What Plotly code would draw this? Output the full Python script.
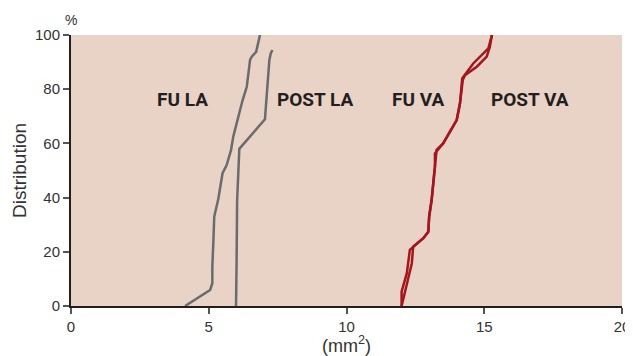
import plotly.graph_objects as go

# FU LA (gray, left)
fu_la_x = [4.14, 5.05, 5.13, 5.13, 5.17, 5.20, 5.35, 5.44, 5.50, 5.65, 5.75, 5.81, 5.89, 6.07, 6.23, 6.38, 6.44, 6.50, 6.56, 6.72, 6.86]
fu_la_y = [0, 5.9, 8.4, 14.5, 24.4, 33.0, 39.7, 45.3, 49.0, 52.0, 55.0, 57.6, 62.5, 69.9, 76.0, 80.9, 85.9, 90.8, 92.0, 93.8, 100]

# POST LA (gray, right)
post_la_x = [5.99, 5.99, 6.01, 6.03, 6.05, 6.07, 6.11, 7.04, 7.10, 7.16, 7.20, 7.25, 7.31]
post_la_y = [0, 14.5, 15.9, 39.0, 45.4, 50.0, 58.0, 68.9, 78.5, 85.2, 90.8, 93.2, 94.5]

# FU VA (red)
fu_va_x = [12.0, 12.0, 12.19, 12.30, 12.79, 12.97, 13.00, 13.09, 13.15, 13.21, 13.21, 13.51, 14.00, 14.12, 14.22, 14.30, 14.73, 15.09, 15.20, 15.28]
fu_va_y = [0, 5.3, 12.1, 20.7, 25.0, 27.4, 33.0, 39.1, 45.3, 51.4, 56.3, 60.0, 68.6, 74.8, 83.4, 85.2, 88.3, 92.0, 95.5, 100]

# POST VA (red)
post_va_x = [12.0, 12.19, 12.37, 12.42, 12.79, 12.97, 13.00, 13.09, 13.15, 13.21, 13.27, 13.51, 14.00, 14.12, 14.20, 14.60, 15.00, 15.15, 15.28]
post_va_y = [0, 8.4, 15.7, 21.9, 25.0, 27.4, 33.0, 39.1, 45.3, 51.4, 57.6, 60.0, 68.6, 74.8, 84.0, 89.5, 93.5, 95.1, 100]

labels = ["FU LA", "POST LA", "FU VA", "POST VA"]
label_x = [4.05, 8.87, 12.6, 16.66]
label_y = [76.1, 76.1, 76.1, 76.1]

x_ticks = [0, 5, 10, 15, 20]
y_ticks = [0, 20, 40, 60, 80, 100]

GRAY = "#6a6b6d"
RED = "#a3161d"

fig = go.Figure()
for xs, ys, c in [(fu_la_x, fu_la_y, GRAY), (post_la_x, post_la_y, GRAY),
                  (fu_va_x, fu_va_y, RED), (post_va_x, post_va_y, RED)]:
    fig.add_trace(go.Scatter(x=xs, y=ys, mode="lines",
                             line=dict(color=c, width=2.5), showlegend=False,
                             hoverinfo="skip"))

for t, lx, ly in zip(labels, label_x, label_y):
    fig.add_annotation(x=lx, y=ly, text="<b>" + t + "</b>", showarrow=False,
                       font=dict(family="Roboto, sans-serif",
                                 size=19, color="#231f20"))

fig.add_annotation(xref="paper", yref="paper", x=0, y=1, xanchor="center", yanchor="bottom",
                   yshift=5, text="%", showarrow=False,
                   font=dict(family="Liberation Sans, sans-serif", size=14, color="#333333"))

axis_font = dict(family="Liberation Sans, sans-serif", size=15, color="#333333")
fig.update_layout(
    width=625, height=348,
    margin=dict(l=63, r=11, t=27, b=50),
    paper_bgcolor="white",
    plot_bgcolor="#e9d2c6",
    xaxis=dict(range=[0, 20], tickvals=x_ticks, showgrid=False, zeroline=False,
               automargin=False,
               showline=True, linecolor="#231f20", linewidth=2,
               ticks="outside", ticklen=6, tickcolor="#555555", tickwidth=1.5,
               tickfont=axis_font,
               title=dict(text="(mm<sup>2</sup>)", font=dict(family="Liberation Sans, sans-serif", size=18, color="#333333"), standoff=4)),
    yaxis=dict(range=[0, 100], tickvals=y_ticks, showgrid=False, zeroline=False,
               automargin=False,
               showline=True, linecolor="#231f20", linewidth=2,
               ticks="outside", ticklen=6, tickcolor="#555555", tickwidth=1.5,
               tickfont=axis_font,
               title=dict(text="Distribution", font=dict(family="Liberation Sans, sans-serif", size=19, color="#333333"), standoff=3)),
)

fig.write_html("out.html")
